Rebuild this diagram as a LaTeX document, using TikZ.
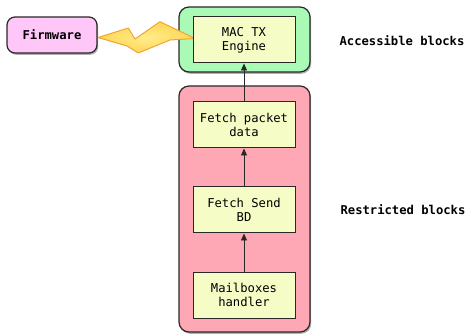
\documentclass[tikz,border=0pt]{standalone}
\usepackage{fontspec}
\setmonofont{DejaVu Sans Mono}
\usetikzlibrary{shadows,arrows.meta}
\definecolor{greenfill}{RGB}{170,250,182}
\definecolor{redfill}{RGB}{255,168,181}
\definecolor{innerfill}{RGB}{246,252,198}
\definecolor{fwfill}{RGB}{255,198,248}
\definecolor{boltfill}{RGB}{255,214,85}
\definecolor{boltlight}{RGB}{255,236,140}
\definecolor{boltline}{RGB}{240,165,50}
\definecolor{edge}{RGB}{40,40,40}
\tikzset{
  txt/.style={font=\ttfamily\fontsize{12.2}{14}\selectfont, align=center},
  boldtxt/.style={font=\ttfamily\bfseries\fontsize{12.2}{14}\selectfont, align=center},
  container/.style={draw=edge, line width=1.2pt, rounded corners=10pt,
    drop shadow={shadow xshift=1.2pt, shadow yshift=-1.8pt, opacity=0.45, fill=black!70},
    minimum width=131pt, inner sep=0pt},
  blockbox/.style={draw=edge, line width=1pt, fill=innerfill, minimum width=102pt,
    minimum height=46pt, inner sep=0pt, txt},
  fwbox/.style={draw=edge, line width=1.2pt, fill=fwfill, rounded corners=8pt,
    minimum width=90pt, minimum height=36pt, inner sep=0pt, boldtxt,
    drop shadow={shadow xshift=1.2pt, shadow yshift=-1.8pt, opacity=0.45, fill=black!70}},
  flow/.style={draw=edge, line width=0.9pt, -{Triangle[length=7pt,width=6pt]}},
  bolt/.style={draw=boltline, line width=1pt, line join=round,
    inner color=boltlight, outer color=boltfill},
}
\begin{document}
\begin{tikzpicture}[x=1pt,y=-1pt]
\useasboundingbox (0,0) rectangle (469,334);
\node[container, fill=greenfill, minimum height=65pt] (green) at (244.5,39.5) {};
\node[container, fill=redfill, minimum height=246pt] (red) at (244.5,209) {};
\node[fwbox] (fw) at (52,35) {Firmware};
\path[bolt]
  (98,37.5) -- (128.3,28) -- (135,39) -- (160,21.7) -- (195,38.5)
  -- (170,40) -- (138.3,53) -- (127,46) -- cycle;
\node[blockbox] (mac) at (244,40) {MAC TX\\Engine};
\node[blockbox] (fpd) at (244,125) {Fetch packet\\data};
\node[blockbox] (fsb) at (244,210) {Fetch Send\\BD};
\node[blockbox] (mbh) at (244,295) {Mailboxes\\handler};
\node[boldtxt] (acc) at (402,41) {Accessible blocks};
\node[boldtxt] (res) at (403,210) {Restricted blocks};
\draw[flow] (mbh.north) -- (fsb.south);
\draw[flow] (fsb.north) -- (fpd.south);
\draw[flow] (fpd.north) -- (mac.south);
\end{tikzpicture}
\end{document}
